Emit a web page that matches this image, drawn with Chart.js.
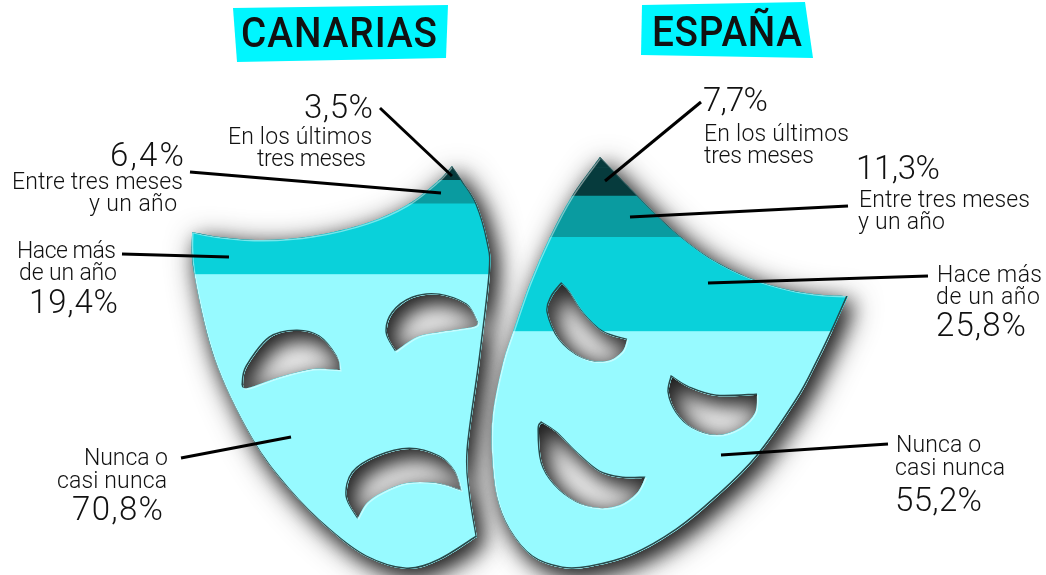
<!DOCTYPE html>
<html lang="es"><head><meta charset="utf-8">
<style>html,body{margin:0;padding:0;background:#fff;overflow:hidden}canvas{display:block}</style>
<script src="https://cdn.jsdelivr.net/npm/chart.js@4"></script>
</head><body><canvas id="c" width="1046" height="575"></canvas>
<script>
const categories = ['CANARIAS', 'ESPAÑA'];
const nuncaValues = [70.8, 55.2];
const haceMasValues = [19.4, 25.8];
const entreValues = [6.4, 11.3];
const ultimosValues = [3.5, 7.7];
const seriesNames = ['Nunca o casi nunca', 'Hace más de un año', 'Entre tres meses y un año', 'En los últimos tres meses'];
const seriesColors = ['#97FAFF', '#0AD1DA', '#0A9BA0', '#063B3D'];

// ---- mask silhouettes (decoration that clips the bars): runs of smooth points, corners between runs
const maskShapes = [
  { outline: [
      [[452,166],[437,182],[407,205],[367,223],[313,236],[263,240],[220,237],[192,232]],
      [[192,232],[194,273],[215,360],[253,440],[290,490],[330,530],[367,557],[407,569],[440,560],[477,537]],
      [[477,537],[470,493],[468,450],[480,360],[490,273],[488,243],[477,205],[463,182],[452,166]]
    ], holes: [
      [[[396,351],[387,333],[393,313],[413,298],[440,295],[467,305],[478,323]],[[478,323],[473,327],[440,332],[417,337],[396,351]]],
      [[[243,385],[247,367],[270,338],[297,331],[320,337],[337,357],[340,370]],[[340,370],[313,369],[280,377],[248,388],[243,385]]],
      [[[358,518],[347,497],[353,473],[377,457],[410,449],[440,457],[455,472],[461,490]],[[461,490],[437,483],[407,483],[383,492],[367,503],[358,518]]]
    ] },
  { outline: [
      [[600,157],[637,195],[657,215],[680,236],[710,258],[750,278],[790,290],[823,295],[848,296]],
      [[848,296],[832,332],[817,363],[797,400],[757,457],[717,497],[677,530],[633,555],[590,567],[563,568],[533,557],[510,530],[497,497],[492,453],[493,413],[503,363],[513,332],[530,283],[550,237],[572,196],[600,157]]
    ], holes: [
      [[[562,284],[570,293],[583,313],[603,332],[627,340]],[[627,340],[622,352],[607,361],[583,358],[560,340],[548,313],[552,297],[562,284]]],
      [[[672,377],[690,388],[717,396],[757,395]],[[757,395],[755,413],[740,428],[717,435],[693,428],[677,413],[669,393],[672,377]]],
      [[[542,423],[557,433],[577,453],[600,472],[623,478],[645,478]],[[645,478],[637,493],[620,505],[600,508],[577,502],[555,485],[542,463],[539,430],[542,423]]]
    ] }
];

function addRuns(p, runs) {
  p.moveTo(runs[0][0][0], runs[0][0][1]);
  for (const r of runs) {
    for (let i = 0; i < r.length - 1; i++) {
      const a = r[Math.max(i - 1, 0)], b = r[i], c = r[i + 1], d = r[Math.min(i + 2, r.length - 1)];
      p.bezierCurveTo(b[0] + (c[0] - a[0]) / 6, b[1] + (c[1] - a[1]) / 6, c[0] - (d[0] - b[0]) / 6, c[1] - (d[1] - b[1]) / 6, c[0], c[1]);
    }
  }
  p.closePath();
}
const maskPaths = maskShapes.map(m => { const p = new Path2D(); addRuns(p, m.outline); m.holes.forEach(h => addRuns(p, h)); return p; });
const allMasks = new Path2D(); maskPaths.forEach(p => allMasks.addPath(p));

const maskPlugin = {
  id: 'masks',
  beforeDatasetsDraw(chart) {
    const ctx = chart.ctx, y = chart.scales.y;
    ctx.save();
    maskPaths.forEach(p => {
      ctx.save();
      ctx.fillStyle = seriesColors[0];
      [[0.8, 30, 6, 7], [0.55, 18, 6, 7]].forEach(s => {
        ctx.shadowColor = `rgba(0,0,0,${s[0]})`; ctx.shadowBlur = s[1]; ctx.shadowOffsetX = s[2]; ctx.shadowOffsetY = s[3];
        ctx.fill(p, 'evenodd');
      });
      ctx.restore();
    });
    ctx.restore();
    ctx.save();
    ctx.clip(allMasks, 'evenodd');
    // the shape's cap and foot run past the 0-100 range of the stack
    ctx.fillStyle = seriesColors[3]; ctx.fillRect(0, 0, chart.width, y.getPixelForValue(100));
    ctx.fillStyle = seriesColors[0]; ctx.fillRect(0, y.getPixelForValue(0), chart.width, chart.height);
  },
  afterDatasetsDraw(chart) {
    const ctx = chart.ctx;
    ctx.save();
    ctx.translate(0.8, 0.8);
    ctx.strokeStyle = 'rgba(255,255,255,0.45)'; ctx.lineWidth = 1.4;
    ctx.stroke(allMasks);
    ctx.translate(-1.6, -1.6);
    ctx.strokeStyle = '#27494B'; ctx.lineWidth = 1.6;
    ctx.stroke(allMasks);
    ctx.restore();
    ctx.restore(); // releases clip
    drawDecor(chart);
  }
};

const BODY = '"Roboto"', W = 300;
function fitText(ctx, text, x0, x1, base, size, weight, squeeze) {
  const sx = squeeze || 1;
  ctx.font = `${weight} ${size}px ${BODY}`;
  ctx.letterSpacing = '0px';
  const w = ctx.measureText(text).width;
  ctx.letterSpacing = (((x1 - x0) / sx - w) / Math.max(text.length - 1, 1)).toFixed(2) + 'px';
  ctx.fillStyle = '#111';
  ctx.textAlign = 'left'; ctx.textBaseline = 'alphabetic';
  ctx.save();
  ctx.translate(x0, base); ctx.scale(sx, 1);
  ctx.fillText(text, 0, 0);
  ctx.restore();
  ctx.letterSpacing = '0px';
}
const pct = v => String(v).replace('.', ',') + '%';

function drawDecor(chart) {
  const ctx = chart.ctx;
  // leaders
  ctx.save();
  ctx.strokeStyle = '#000'; ctx.lineWidth = 3; ctx.lineCap = 'butt';
  [[380,108,452,176],[190,172,441,193],[122,254,229,257],[181,458,291,437],
   [701,102,605,181],[848,206,630,217],[928,276,708,283],[888,444,721,455]].forEach(l => {
    ctx.beginPath(); ctx.moveTo(l[0], l[1]); ctx.lineTo(l[2], l[3]); ctx.stroke();
  });
  // title boxes
  ctx.fillStyle = '#00F6FF';
  [[[233,8],[448,5],[446,58],[237,62]], [[642,5],[805,2],[813,58],[641,55]]].forEach(b => {
    ctx.beginPath(); b.forEach((q, i) => i ? ctx.lineTo(q[0], q[1]) : ctx.moveTo(q[0], q[1])); ctx.closePath(); ctx.fill();
  });
  fitText(ctx, categories[0], 241, 437, 47, 43, 500, 0.9);
  fitText(ctx, categories[1], 652, 802, 46, 43, 500, 0.9);
  const S = 33, L = 23;
  const T = (t, a, b, y, s) => fitText(ctx, t, a, b, y, s, W);
  T(pct(ultimosValues[0]), 304, 373, 118, S);
  T('En los últimos', 228, 372, 144, L); T('tres meses', 257, 366, 166, L);
  T(pct(entreValues[0]), 110, 184, 166, S);
  T('Entre tres meses', 12, 183, 189, L); T('y un año', 89, 177, 211, L);
  T('Hace más', 17, 116, 258, L); T('de un año', 19, 117, 280, L);
  T(pct(haceMasValues[0]), 29, 118, 313, S);
  T('Nunca o', 84, 168, 465, L); T('casi nunca', 57, 167, 488, L);
  T(pct(nuncaValues[0]), 72, 163, 520, S);
  T(pct(ultimosValues[1]), 703, 768, 111, S);
  T('En los últimos', 704, 849, 141, L); T('tres meses', 704, 814, 163, L);
  T(pct(entreValues[1]), 856, 940, 179, S);
  T('Entre tres meses', 859, 1030, 207, L); T('y un año', 858, 945, 229, L);
  T('Hace más', 937, 1042, 282, L); T('de un año', 936, 1040, 304, L);
  T(pct(haceMasValues[1]), 936, 1026, 336, S);
  T('Nunca o', 896, 981, 452, L); T('casi nunca', 895, 1005, 475, L);
  T(pct(nuncaValues[1]), 895, 982, 511, S);
  ctx.restore();
}

const seriesValues = [nuncaValues, haceMasValues, entreValues, ultimosValues];
new Chart(document.getElementById('c'), {
  type: 'bar',
  data: {
    labels: categories,
    datasets: seriesValues.map((v, i) => ({
      label: seriesNames[i], data: v, backgroundColor: seriesColors[i],
      borderWidth: 0, barPercentage: 1, categoryPercentage: 1
    }))
  },
  options: {
    responsive: false, animation: false,
    layout: { padding: { left: 120, right: 184, top: 0, bottom: 0 } },
    plugins: { legend: { display: false }, tooltip: { enabled: false }, title: { display: false } },
    scales: {
      x: { type: 'category', stacked: true, display: false },
      y: { type: 'linear', stacked: true, display: false, min: -11.5, max: 146 }
    }
  },
  plugins: [maskPlugin]
});
</script></body></html>
